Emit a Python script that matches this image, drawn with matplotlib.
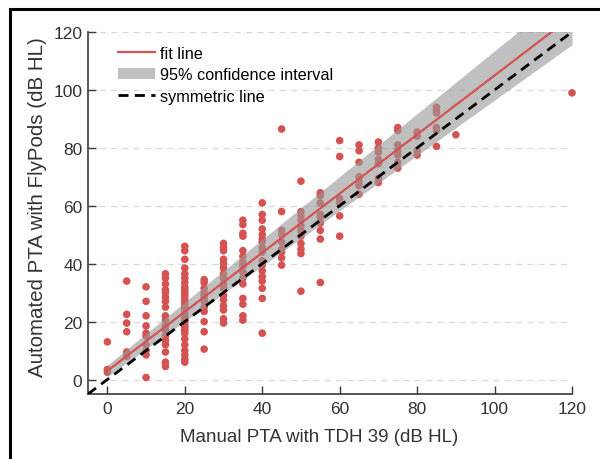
import matplotlib
matplotlib.use("Agg")
import matplotlib.pyplot as plt
from matplotlib.patches import Rectangle, Patch
from matplotlib.lines import Line2D

plt.rcParams['font.family'] = ['Liberation Sans', 'DejaVu Sans']

# ---- data ----
manual_levels = [0, 5, 10, 15, 20, 25, 30, 35, 40, 45, 50, 55, 60, 65, 70, 75, 80, 85, 90, 120]
automated_values = [
    [13, 3.5, 2.5],
    [34, 22.5, 19.5, 16.5, 9.5, 8],
    [32, 27, 22, 18.5, 16, 15, 12, 10, 8.5, 0.7],
    [36.5, 35, 33, 31, 30, 28.5, 27, 25, 22, 20.5, 18.5, 17, 15, 13.5, 12, 9.5, 6, 4.5],
    [46, 44.5, 41.5, 38.5, 36.5, 35, 33.5, 32, 31, 30, 29, 28, 27, 26, 25, 24, 23, 22,
     21, 20, 19, 18, 17, 16, 14, 12, 10, 8.5, 7, 6],
    [34.5, 33.5, 31.5, 30, 29, 28, 27, 25, 23.5, 20, 16.5, 10.5],
    [47, 45.5, 44.5, 41.5, 40, 38.5, 36.5, 35, 33, 31.5, 29, 27.5, 25.5, 24, 21, 19.5],
    [55, 53.5, 50.5, 49.5, 44.5, 42.5, 40.5, 39, 37, 35, 33, 28, 26, 22, 20.5],
    [61, 57, 55, 52, 50, 48.5, 47.5, 45.5, 44, 41, 39.5, 37.5, 35.5, 34, 31.5, 28, 16],
    [86.5, 58, 51.5, 50, 47.5, 45, 44, 42, 39.5],
    [68.5, 58, 56.5, 55, 53, 51.5, 49.5, 47, 45, 43.5, 30.5],
    [64.5, 63.5, 61, 57, 56, 54, 51.5, 48.5, 33.5],
    [82.5, 77, 62.5, 61, 56.5, 49.5],
    [81, 79, 75, 70, 68.5, 67, 64],
    [82, 80, 78.5, 76, 74.5, 69.5, 68],
    [87, 86, 81, 79, 77.5, 75, 73],
    [85.5, 84, 79, 77.5],
    [94, 93, 92, 87, 86, 80.5],
    [84.5],
    [99],
]

fit_x = [0, 120]
fit_y = [3.0, 125.4]
ci_lower = [1.0, 115.6]
ci_upper = [5.0, 135.2]
sym_x = [-5, 120]
sym_y = [-5, 120]

ticks = [0, 20, 40, 60, 80, 100, 120]

xs, ys = [], []
for lvl, vals in zip(manual_levels, automated_values):
    for v in vals:
        xs.append(lvl)
        ys.append(v)

red = '#d45252'
fig = plt.figure(figsize=(6, 4.6), dpi=100)
ax = fig.add_axes([88/600, 1-395/460, (572-88)/600, (395-33)/460])

ax.scatter(xs, ys, s=30, color=red, edgecolors='none', zorder=2, clip_on=False)
ax.fill_between(fit_x, ci_lower, ci_upper, color='#9a9a9a', alpha=0.62, lw=0, zorder=3)
ax.plot(fit_x, fit_y, color=red, lw=1.6, zorder=4)
ax.plot(sym_x, sym_y, color='black', lw=2.0, dashes=(3.6, 2.3), zorder=5)

ax.set_xlim(-5, 120)
ax.set_ylim(-5, 120)
ax.set_xticks(ticks)
ax.set_yticks(ticks)
for t in ticks:
    ax.axhline(t, color='#d9d9d9', lw=0.9, dashes=(5, 4), zorder=1)

for s in ['top', 'right']:
    ax.spines[s].set_visible(False)
for s in ['left', 'bottom']:
    ax.spines[s].set_color('#3a3a3a')
    ax.spines[s].set_linewidth(1.2)
ax.tick_params(direction='in', length=6, width=1.0, color='#3a3a3a',
               labelsize=12.5, labelcolor='#333333')
ax.tick_params(axis='x', pad=5)
ax.tick_params(axis='y', pad=4)

ax.set_xlabel('Manual PTA with TDH 39 (dB HL)', fontsize=13.5, color='#333333')
ax.xaxis.set_label_coords((319-88)/484, -(429-395)/362)
ax.set_ylabel('Automated PTA with FlyPods (dB HL)', fontsize=14.8, color='#333333')
ax.yaxis.set_label_coords(-(88-47)/484, (395-207)/362)

handles = [
    Line2D([], [], color=red, lw=1.6),
    Patch(facecolor='#c0c0c0', edgecolor='none'),
    Line2D([], [], color='black', lw=2.0, dashes=(3.6, 2.3)),
]
labels = ['fit line', '95% confidence interval', 'symmetric line']
ax.legend(handles, labels, loc='upper left', bbox_to_anchor=(0.0486, 0.98), frameon=False,
          fontsize=11.7, handlelength=2.3, handletextpad=0.3, labelspacing=0.4,
          borderaxespad=0.0)

rect = Rectangle((0, 0), 1, 1, transform=fig.transFigure, fill=False,
                 edgecolor='black', lw=2.2)
rect.set_bounds(10/600, -0.5, 1.2, 0.5 + 1 - 10/460)
fig.patches.append(rect)

fig.savefig('out.png', dpi=100)
